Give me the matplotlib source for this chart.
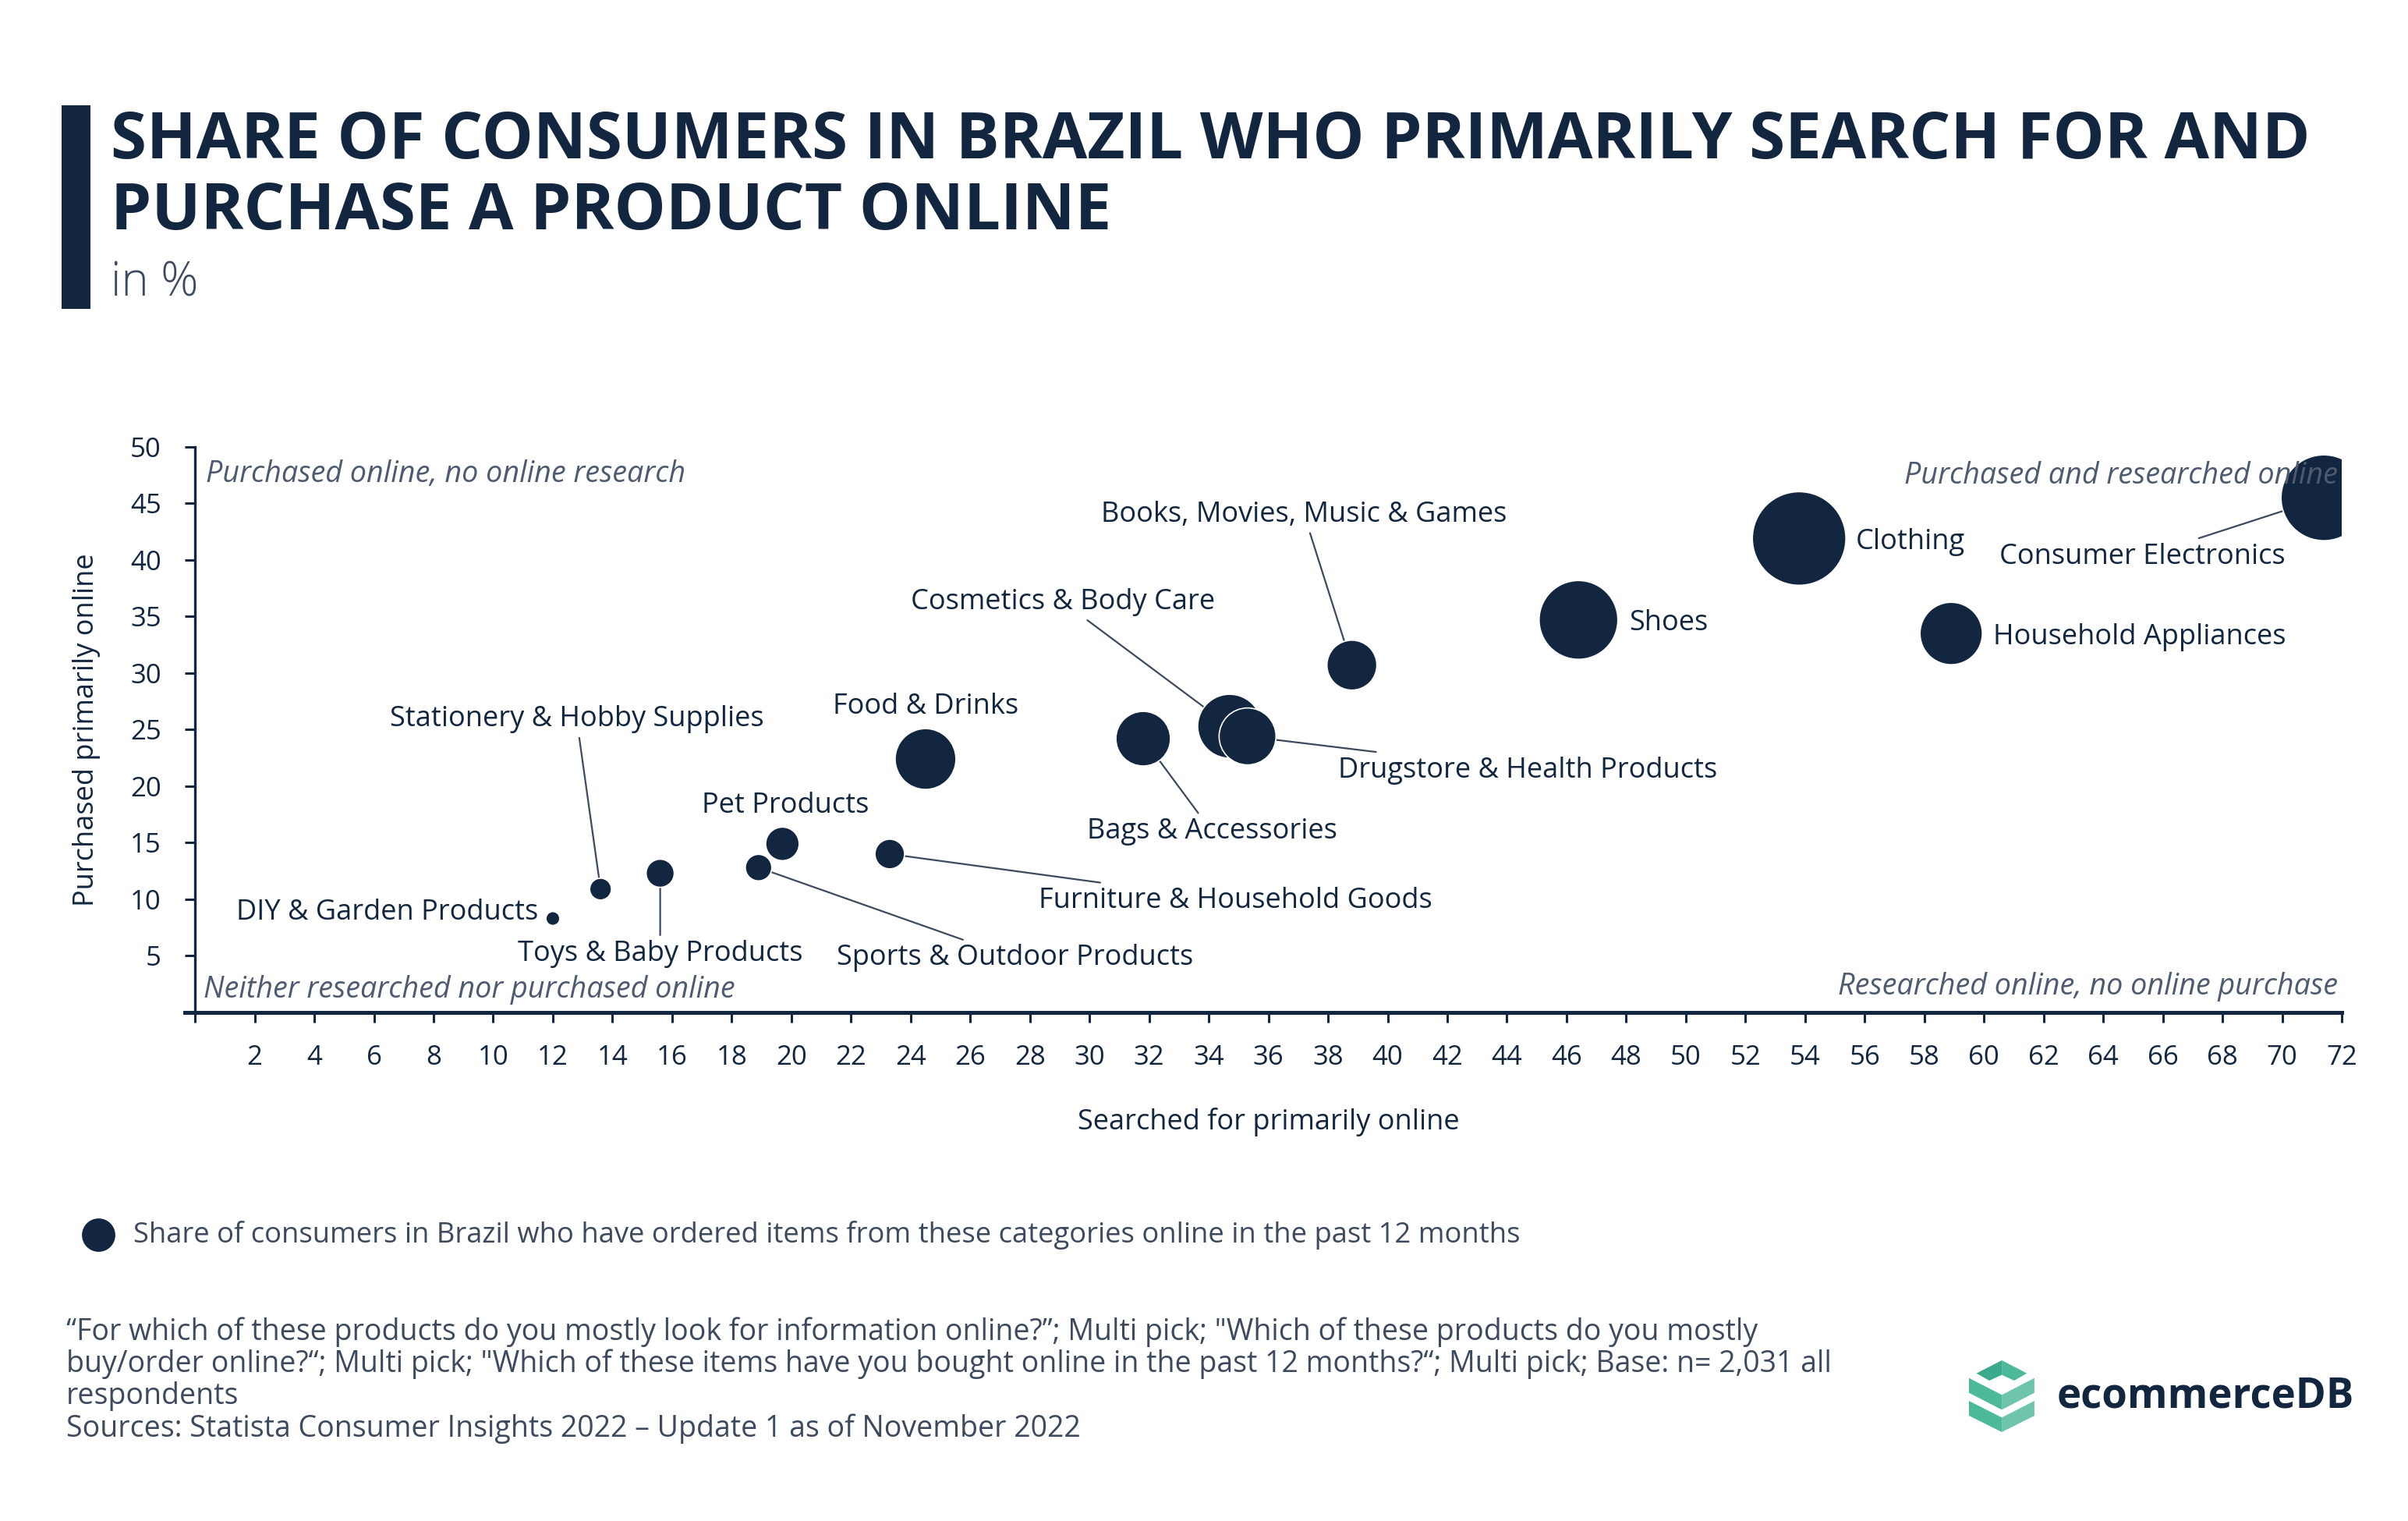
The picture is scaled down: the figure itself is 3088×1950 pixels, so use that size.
import matplotlib
matplotlib.use("Agg")
import matplotlib.pyplot as plt
from matplotlib.patches import Rectangle, Polygon
from matplotlib.lines import Line2D

plt.rcParams['font.family'] = ['Open Sans', 'DejaVu Sans']

# datos del grafico
categorias = ["DIY & Garden Products", "Stationery & Hobby Supplies", "Toys & Baby Products",
              "Sports & Outdoor Products", "Pet Products", "Furniture & Household Goods",
              "Food & Drinks", "Bags & Accessories", "Cosmetics & Body Care",
              "Drugstore & Health Products", "Books, Movies, Music & Games", "Shoes",
              "Clothing", "Household Appliances", "Consumer Electronics"]
buscado = [12.0, 13.6, 15.6, 18.9, 19.7, 23.3, 24.5, 31.8, 34.7, 35.3, 38.8, 46.4, 53.8, 58.9, 71.4]
comprado = [8.3, 10.9, 12.3, 12.8, 14.9, 14.0, 22.4, 24.2, 25.3, 24.4, 30.7, 34.7, 41.9, 33.5, 45.5]
# cuota estimada que compro online en los ultimos 12 meses (tamano de burbuja)
pedido = [1.1, 2.7, 4.5, 4.0, 6.4, 5.0, 21.1, 17.0, 23.3, 18.5, 14.2, 35.4, 50.0, 22.2, 42.0]

x_ticks = list(range(0, 73, 2))
y_ticks = list(range(0, 51, 5))

# posiciones de las etiquetas (x, y, alineacion, con linea)
etiquetas = [
    (11.5, 8.8, 'right', False),
    (12.8, 25.9, 'center', True),
    (15.6, 5.2, 'center', True),
    (27.5, 4.8, 'center', True),
    (19.8, 18.3, 'center', False),
    (34.9, 9.85, 'center', True),
    (24.5, 27.0, 'center', False),
    (34.1, 16.0, 'center', True),
    (29.1, 36.3, 'center', True),
    (44.7, 21.4, 'center', True),
    (37.2, 44.0, 'center', True),
    (48.1, 34.4, 'left', False),
    (55.7, 41.6, 'left', False),
    (60.3, 33.2, 'left', False),
    (65.3, 40.3, 'center', True),
]

azul = '#12263f'
gris = '#3d4a5e'
gris_claro = '#4d5a70'

fig = plt.figure(figsize=(15.44, 9.75), dpi=200)
ax = fig.add_axes([0.081, 0.3344, 0.8915, 0.3718])

ax.scatter(buscado, comprado, s=[v * 37.3 for v in pedido], color=azul,
           edgecolor='white', linewidth=0.6, zorder=3)

for nombre, xs, ys, (tx, ty, ha, linea) in zip(categorias, buscado, comprado, etiquetas):
    if linea:
        ax.annotate(nombre, xy=(xs, ys), xytext=(tx, ty), ha=ha, va='center',
                    fontsize=13, color=azul, zorder=2,
                    arrowprops=dict(arrowstyle='-', color=gris, lw=0.8,
                                    shrinkA=0, shrinkB=0))
    else:
        ax.text(tx, ty, nombre, ha=ha, va='center', fontsize=13, color=azul, zorder=2)

# cuadrantes
kw = dict(fontsize=13.6, color=gris_claro, style='italic', transform=ax.transAxes, zorder=5)
ax.text(0.005, 0.952, "Purchased online, no online research", ha='left', va='center', **kw)
ax.text(0.998, 0.949, "Purchased and researched online", ha='right', va='center', **kw)
ax.text(0.004, 0.04, "Neither researched nor purchased online", ha='left', va='center', **kw)
ax.text(0.998, 0.045, "Researched online, no online purchase", ha='right', va='center', **kw)

ax.set_xlim(0, 72)
ax.set_ylim(0, 50)
ax.set_xticks(x_ticks)
ax.set_xticklabels(['' if t == 0 else str(t) for t in x_ticks])
ax.set_yticks(y_ticks)
ax.set_yticklabels(['' if t == 0 else str(t) for t in y_ticks])
ax.tick_params(axis='x', length=4.7, width=1.1, color=azul, labelcolor=azul,
               labelsize=12.5, pad=10)
ax.tick_params(axis='y', length=4.6, width=1.1, color=azul, labelcolor=azul,
               labelsize=12.5, pad=11)
for lado in ['top', 'right']:
    ax.spines[lado].set_visible(False)
ax.spines['bottom'].set_linewidth(1.8)
ax.spines['bottom'].set_color(azul)
ax.spines['bottom'].set_bounds(-0.35, 72)
ax.spines['left'].set_linewidth(1.2)
ax.spines['left'].set_color(azul)

ax.set_xlabel("Searched for primarily online", fontsize=13, color=azul)
ax.xaxis.set_label_coords(0.5, -0.168)
ax.set_ylabel("Purchased primarily online", fontsize=13, color=azul)
ax.yaxis.set_label_coords(-0.044, 0.5)

# titulo
fig.add_artist(Rectangle((0.0256, 0.797), 0.012, 0.134, transform=fig.transFigure,
                         color=azul, lw=0))
fig.text(0.046, 0.907, "SHARE OF CONSUMERS IN BRAZIL WHO PRIMARILY SEARCH FOR AND",
         fontsize=30, fontweight='bold', color=azul, va='center')
fig.text(0.046, 0.8605, "PURCHASE A PRODUCT ONLINE",
         fontsize=30, fontweight='bold', color=azul, va='center')
fig.text(0.046, 0.8135, "in %", fontsize=21.5, color=gris, va='center', fontweight='light')

# leyenda
fig.add_artist(Line2D([0.0408], [0.188], marker='o', markersize=14.4, color=azul,
                      transform=fig.transFigure))
fig.text(0.0555, 0.188, "Share of consumers in Brazil who have ordered items from these "
         "categories online in the past 12 months", fontsize=13.1, color=gris, va='center')

# notas
notas = [
    "\u201cFor which of these products do you mostly look for information online?\u201d; Multi pick; "
    "\"Which of these products do you mostly",
    "buy/order online?\u201c; Multi pick; \"Which of these items have you bought online in the past "
    "12 months?\u201c; Multi pick; Base: n= 2,031 all",
    "respondents",
    "Sources: Statista Consumer Insights 2022 \u2013 Update 1 as of November 2022",
]
for i, linea in enumerate(notas):
    fig.text(0.0275, 0.1245 - i * 0.0212, linea, fontsize=13.5, color=gris, va='center')

# logo
def px(x, y):
    return ((2500 + x / 2.8) / 3088, 1 - (1720 + y / 3) / 1950)

formas = [
    ([(97, 122), (188, 72), (188, 128), (143, 150)], '#3aaa8c'),
    ([(188, 72), (278, 122), (232, 150), (188, 128)], '#4cb99a'),
    ([(70, 140), (188, 205), (188, 262), (70, 197)], '#4cb99a'),
    ([(188, 205), (305, 140), (305, 197), (188, 262)], '#6fc4ae'),
    ([(70, 228), (188, 292), (188, 348), (70, 285)], '#4cb99a'),
    ([(188, 292), (305, 228), (305, 285), (188, 348)], '#6fc4ae'),
]
for puntos, c in formas:
    fig.add_artist(Polygon([px(a, b) for a, b in puntos], closed=True,
                           transform=fig.transFigure, color=c, lw=0))
fig.text(0.854, 0.082, "ecommerceDB", fontsize=19, fontweight='bold', color=azul, va='center')

fig.savefig("out.png", dpi=200)
